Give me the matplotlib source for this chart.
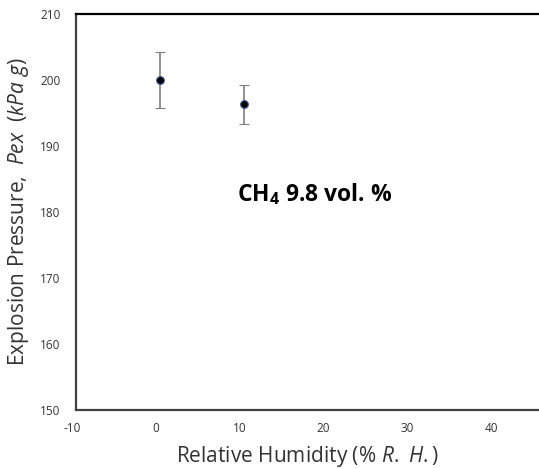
import matplotlib
matplotlib.use('Agg')
import matplotlib.pyplot as plt
import matplotlib.transforms as mtransforms

# data
humidity = [0, 10]
pressure = [200.0, 196.3]
err_low = [4.3, 3.0]
err_high = [4.3, 2.9]

x_ticks = [-10, 0, 10, 20, 30, 40]
y_ticks = [150, 160, 170, 180, 190, 200, 210]

plt.rcParams['font.family'] = ['Open Sans', 'DejaVu Sans']
plt.rcParams['axes.unicode_minus'] = False
plt.rcParams['mathtext.fontset'] = 'custom'
plt.rcParams['mathtext.rm'] = 'Open Sans'
plt.rcParams['mathtext.it'] = 'Open Sans:italic'
plt.rcParams['mathtext.bf'] = 'Open Sans:bold'

fig = plt.figure(figsize=(5.39, 4.69), dpi=100)
ax = fig.add_axes([0.141, 0.126, 0.859, 0.844])

ax.errorbar(humidity, pressure, yerr=[err_low, err_high], fmt='o',
            color='black', ecolor='#7f7f7f', elinewidth=1.2, capsize=3.5,
            capthick=1.2, markersize=5.5, markeredgecolor='#2f5597',
            markeredgewidth=0.8, zorder=3)

ax.set_xlim(-10, 45.2)
ax.set_ylim(150, 210)
ax.set_xticks(x_ticks)
ax.set_yticks(y_ticks)
ax.tick_params(length=0, labelsize=8.5, colors='#333333')
ax.tick_params(axis='y', pad=11)
ax.tick_params(axis='x', pad=9)

# Excel-style: x tick labels sit a little left of their ticks
shift = mtransforms.ScaledTranslation(-4 / 100, 0, fig.dpi_scale_trans)
for lbl in ax.get_xticklabels():
    lbl.set_transform(lbl.get_transform() + shift)

for side in ['left', 'bottom']:
    ax.spines[side].set_linewidth(1.6)
    ax.spines[side].set_color('#404040')
ax.spines['top'].set_linewidth(1.6)
ax.spines['top'].set_color('black')
ax.spines['right'].set_visible(False)

ax.set_xlabel(r'Relative Humidity ($\mathit{\%\ R.\ H.}$)', fontsize=15,
              color='#333333', labelpad=6)
ax.set_ylabel(r'Explosion Pressure,  $\mathit{Pex}$  ($\mathit{kPa\ g}$)',
              fontsize=15, color='#333333', labelpad=7)

ax.text(18.5, 182.7, r'CH$_\mathbf{4}$ 9.8 vol. %', fontsize=16.5,
        fontweight='bold', ha='center', va='center')

fig.savefig('out.png', dpi=100)
